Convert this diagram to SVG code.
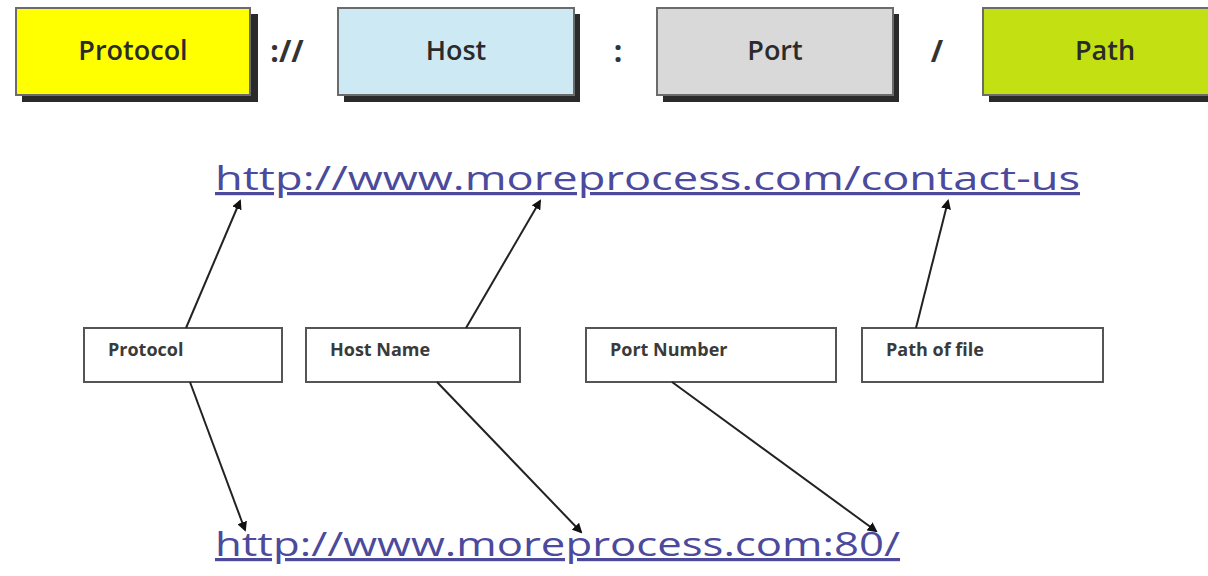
<svg xmlns="http://www.w3.org/2000/svg" width="1208" height="576" viewBox="0 0 1208 576">
<style>
.top{stroke:#6b6b6b;stroke-width:2}
.shadow{fill:#2a2a2a}
.tt{font-family:"Open Sans","Liberation Sans",sans-serif;font-size:27px;font-weight:600;fill:#2b2b2b;text-anchor:middle}
.sep{font-family:"Open Sans","Liberation Sans",sans-serif;font-size:30px;font-weight:bold;fill:#333;text-anchor:middle}
.url{font-family:"Open Sans","Liberation Sans",sans-serif;font-size:32px;fill:#4b4a9c;text-decoration:underline}
.lb{fill:#fff;stroke:#555;stroke-width:2}
.lt{font-family:"Open Sans","Liberation Sans",sans-serif;font-size:18px;font-weight:bold;fill:#3a3a3a}
.con{stroke:#222;stroke-width:2;fill:none;marker-end:url(#ah)}
</style>
<defs>
<marker id="ah" markerWidth="10" markerHeight="10" refX="8" refY="5" orient="auto" markerUnits="userSpaceOnUse">
<path d="M0,0 L10,5 L0,10 Z" fill="#111"/>
</marker>
</defs>
<rect width="1208" height="576" fill="#fff"/>
<g id="n-protocol-top">
<rect class="shadow" x="22" y="14" width="236" height="88"/>
<rect class="top" x="16" y="8" width="234" height="87" fill="#ffff00"/>
<text class="tt" x="133" y="60">Protocol</text>
</g>
<g id="n-host-top">
<rect class="shadow" x="344" y="14" width="236" height="88"/>
<rect class="top" x="338" y="8" width="236" height="87" fill="#cce9f4"/>
<text class="tt" x="456" y="60">Host</text>
</g>
<g id="n-port-top">
<rect class="shadow" x="663" y="14" width="236" height="88"/>
<rect class="top" x="657" y="8" width="236" height="87" fill="#d9d9d9"/>
<text class="tt" x="775" y="60">Port</text>
</g>
<g id="n-path-top">
<rect class="shadow" x="989" y="14" width="230" height="88"/>
<rect class="top" x="983" y="8" width="230" height="87" fill="#c3e112"/>
<text class="tt" x="1105" y="60">Path</text>
</g>
<g id="separators">
<text class="sep" x="287" y="62">://</text>
<text class="sep" x="618" y="62">:</text>
<text class="sep" x="937" y="62">/</text>
</g>
<g id="n-url1">
<text class="url" x="215" y="190" textLength="865" lengthAdjust="spacingAndGlyphs">http://www.moreprocess.com/contact-us</text>
</g>
<g id="n-url2">
<text class="url" x="215" y="556" textLength="685" lengthAdjust="spacingAndGlyphs">http://www.moreprocess.com:80/</text>
</g>
<g id="n-protocol">
<rect class="lb" x="84" y="328" width="198" height="54"/>
<text class="lt" x="108" y="356">Protocol</text>
</g>
<g id="n-hostname">
<rect class="lb" x="306" y="328" width="214" height="54"/>
<text class="lt" x="330" y="356">Host Name</text>
</g>
<g id="n-portnumber">
<rect class="lb" x="586" y="328" width="250" height="54"/>
<text class="lt" x="610" y="356">Port Number</text>
</g>
<g id="n-pathfile">
<rect class="lb" x="862" y="328" width="241" height="54"/>
<text class="lt" x="886" y="356">Path of file</text>
</g>
<g id="connectors">
<line class="con" x1="186" y1="328" x2="240" y2="201"/>
<line class="con" x1="466" y1="328" x2="540" y2="201"/>
<line class="con" x1="916" y1="328" x2="948" y2="201"/>
<line class="con" x1="190" y1="382" x2="245" y2="530"/>
<line class="con" x1="437" y1="382" x2="581" y2="532"/>
<line class="con" x1="672" y1="382" x2="876" y2="531"/>
</g>
</svg>
